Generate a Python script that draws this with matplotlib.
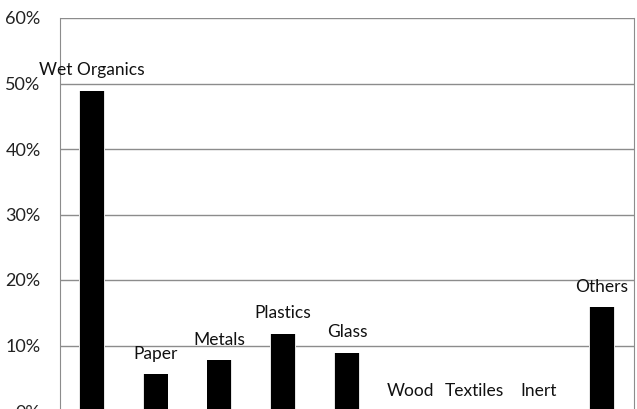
import matplotlib.pyplot as plt
from matplotlib.ticker import PercentFormatter

categories = ['Wet Organics', 'Paper', 'Metals', 'Plastics', 'Glass',
              'Wood', 'Textiles', 'Inert', 'Others']
shares = [0.489, 0.056, 0.078, 0.118, 0.089, 0.0, 0.0, 0.0, 0.159]

plt.rcParams['font.family'] = ['Lato', 'DejaVu Sans']

fig = plt.figure(figsize=(6.37, 4.09), dpi=100)
ax = fig.add_axes([60 / 637, -2 / 409, 574 / 637, 393 / 409])

x = range(len(categories))
# soft shadow behind each bar
ax.bar(x, shares, width=0.40, color='#e4e4e4', zorder=2)
ax.bar(x, shares, width=0.375, color='black', zorder=3)

for i, (name, v) in enumerate(zip(categories, shares)):
    ax.text(i, v + 0.031, name, ha='center', va='center', fontsize=12.5,
            color='#111111', zorder=4)

ax.set_xlim(-0.5, len(categories) - 0.5)
ax.set_ylim(0, 0.6)
ax.set_yticks([0, 0.1, 0.2, 0.3, 0.4, 0.5, 0.6])
ax.yaxis.set_major_formatter(PercentFormatter(1.0, decimals=0))
ax.tick_params(axis='y', length=0, pad=14, labelsize=13, labelcolor='#222222')
ax.set_xticks([])
ax.grid(axis='y', color='#8c8c8c', linewidth=1, zorder=1)
for s in ax.spines.values():
    s.set_color('#8c8c8c')
ax.spines['top'].set_visible(False)

fig.savefig('out.png', dpi=100)
